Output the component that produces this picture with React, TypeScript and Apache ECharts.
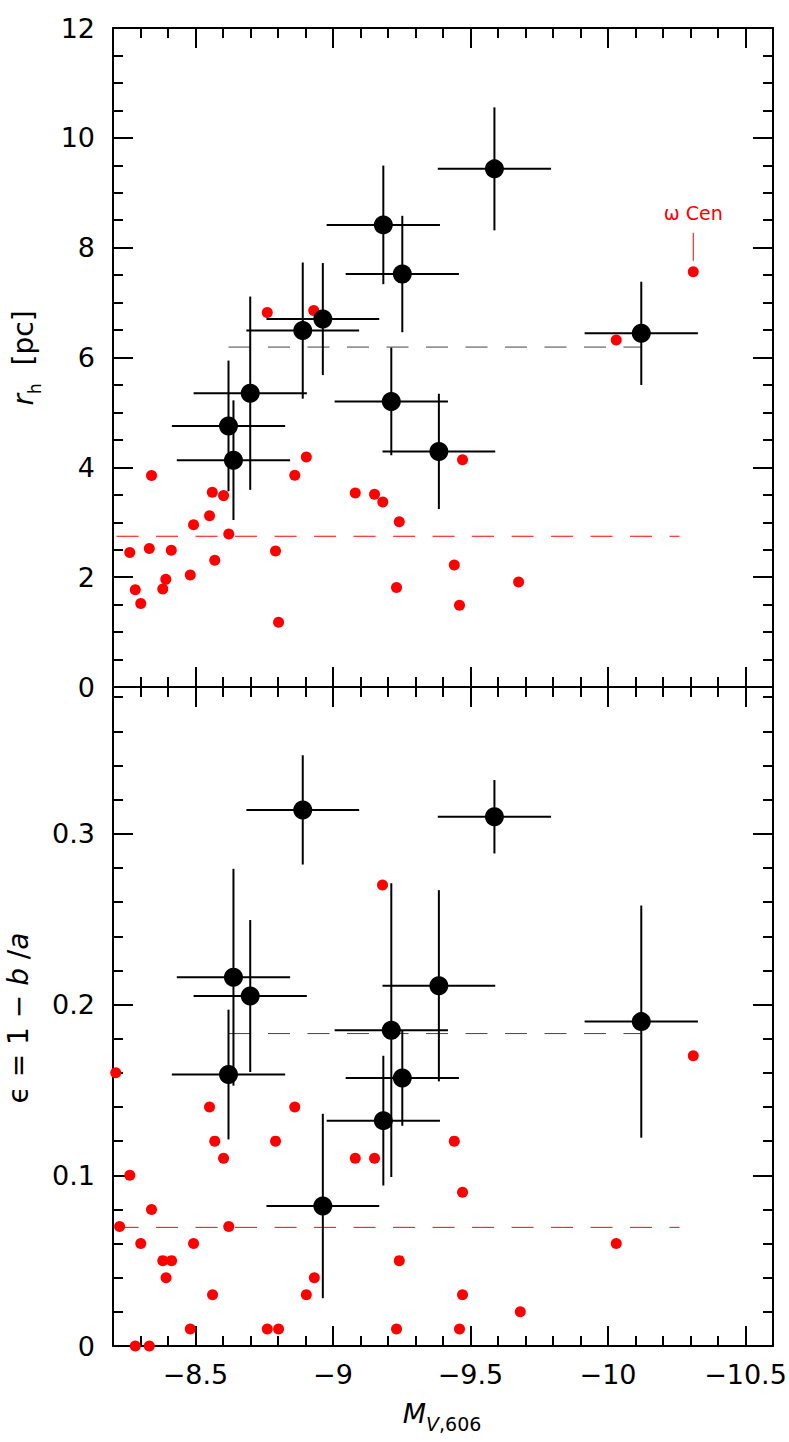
import React, { useEffect, useRef } from 'react';
import * as echarts from 'echarts';

const FONT = '"DejaVu Sans", "Liberation Sans", sans-serif';
const FW = 'normal';

// x-axis range (M_V,606; plotted brighter to the right)
const X_MIN = -10.6;
const X_MAX = -8.2;
const RH_MAX = 12;
const ELL_MAX = 0.386;

// Black points: sample with error bars
const blackMv = [-9.183, -9.587, -9.252, -10.121, -8.963, -8.89, -9.385, -9.212, -8.699, -8.62, -8.638];
const blackMvErr = [0.206, 0.206, 0.206, 0.206, 0.205, 0.205, 0.205, 0.206, 0.206, 0.206, 0.206];
const blackRh = [8.415, 9.435, 7.52, 6.44, 6.7, 6.49, 4.29, 5.2, 5.35, 4.754, 4.13];
const blackRhErr = [1.08, 1.12, 1.06, 0.94, 1.02, 1.24, 1.05, 0.98, 1.76, 1.19, 1.09];
const blackEll = [0.132, 0.31, 0.157, 0.19, 0.082, 0.314, 0.211, 0.185, 0.205, 0.159, 0.216];
const blackEllErr = [0.038, 0.0215, 0.028, 0.068, 0.054, 0.032, 0.056, 0.086, 0.0445, 0.038, 0.0635];

// Red points: comparison clusters, upper panel
const redMvTop = [-8.261, -8.281, -8.301, -8.332, -8.34, -8.381, -8.392, -8.412, -8.481, -8.493, -8.551, -8.561, -8.57, -8.602, -8.621, -8.761, -8.791, -8.802, -8.861, -8.903, -8.93, -9.081, -9.151, -9.181, -9.241, -9.231, -9.441, -9.46, -9.471, -9.675, -10.03, -10.31];
const redRh = [2.45, 1.77, 1.52, 2.52, 3.85, 1.785, 1.96, 2.49, 2.04, 2.956, 3.12, 3.546, 2.31, 3.485, 2.787, 6.82, 2.477, 1.18, 3.856, 4.19, 6.854, 3.534, 3.51, 3.37, 3.01, 1.81, 2.22, 1.49, 4.14, 1.91, 6.32, 7.56];

// Red points: lower panel
const redMvBot = [-8.21, -8.224, -8.261, -8.281, -8.301, -8.332, -8.34, -8.381, -8.393, -8.413, -8.481, -8.493, -8.551, -8.562, -8.57, -8.602, -8.621, -8.761, -8.791, -8.802, -8.861, -8.903, -8.932, -9.081, -9.151, -9.18, -9.241, -9.231, -9.441, -9.471, -9.471, -9.46, -9.681, -10.03, -10.31];
const redEll = [0.16, 0.07, 0.1, 0.0, 0.06, 0.0, 0.08, 0.05, 0.04, 0.05, 0.01, 0.06, 0.14, 0.03, 0.12, 0.11, 0.07, 0.01, 0.12, 0.01, 0.14, 0.03, 0.04, 0.11, 0.11, 0.27, 0.05, 0.01, 0.12, 0.09, 0.03, 0.01, 0.02, 0.06, 0.17];

// omega Cen
const omegaMv = -10.31;
const omegaRh = 7.56;
const omegaLabel = 'ω Cen';

// Mean lines: [xStart, xEnd, y]
const meanBlackRh = [-8.62, -10.121, 6.19];
const meanRedRh = [-8.213, -10.26, 2.745];
const meanBlackEll = [-8.62, -10.121, 0.183];
const meanRedEll = [-8.213, -10.26, 0.0695];

const xTickLabel = (v: number) => {
  const r = Math.round(v * 2) / 2;
  if (Math.abs(v - r) > 1e-6) return '';
  return '\u2212' + String(Math.abs(r));
};

const tickStyle = { color: '#000', width: 2 };

function xAxisCfg(gridIndex: number, position: string, labels: boolean) {
  return {
    type: 'value',
    gridIndex,
    position,
    inverse: true,
    min: X_MIN,
    max: X_MAX,
    minInterval: 0.5,
    maxInterval: 0.5,
    splitNumber: 5,
    axisLine: { show: true, onZero: false, lineStyle: { color: '#000', width: 2 } },
    axisTick: { show: true, inside: true, length: 20, lineStyle: tickStyle },
    minorTick: { show: true, splitNumber: 5, length: 10, lineStyle: tickStyle },
    splitLine: { show: false },
    minorSplitLine: { show: false },
    axisLabel: {
      show: labels,
      showMinLabel: false,
      showMaxLabel: false,
      margin: 15,
      fontSize: 27,
      fontFamily: FONT,
      fontWeight: FW,
      color: '#000',
      formatter: xTickLabel,
    },
  };
}

function yAxisCfg(gridIndex: number, position: string, labels: boolean, max: number, interval: number, minorSplit: number, fmt: (v: number) => string) {
  return {
    type: 'value',
    gridIndex,
    position,
    min: 0,
    max,
    minInterval: interval,
    maxInterval: interval,
    axisLine: { show: true, onZero: false, lineStyle: { color: '#000', width: 2 } },
    axisTick: { show: true, inside: true, length: 20, lineStyle: tickStyle },
    minorTick: { show: true, splitNumber: minorSplit, length: 10, lineStyle: tickStyle },
    splitLine: { show: false },
    minorSplitLine: { show: false },
    axisLabel: {
      show: labels,
      showMaxLabel: max === RH_MAX,
      margin: 18,
      fontSize: 27,
      fontFamily: FONT,
      fontWeight: FW,
      color: '#000',
      formatter: fmt,
    },
  };
}

const rhFmt = (v: number) => {
  const r = Math.round(v / 2) * 2;
  if (Math.abs(v - r) > 1e-6) return '';
  return String(r);
};
const ellFmt = (v: number) => {
  const r = Math.round(v * 10) / 10;
  if (Math.abs(v - r) > 1e-6) return '';
  return r === 0 ? '0' : r.toFixed(1);
};

const errorBarRender = (params: any, api: any) => {
  const x = api.value(0);
  const y = api.value(1);
  const ex = api.value(2);
  const ey = api.value(3);
  const l = api.coord([x - ex, y]);
  const r = api.coord([x + ex, y]);
  const t = api.coord([x, y + ey]);
  const b = api.coord([x, y - ey]);
  const style = { stroke: '#000', lineWidth: 2 };
  return {
    type: 'group',
    children: [
      { type: 'line', shape: { x1: l[0], y1: l[1], x2: r[0], y2: r[1] }, style },
      { type: 'line', shape: { x1: t[0], y1: t[1], x2: b[0], y2: b[1] }, style },
    ],
  };
};

const omegaRender = (params: any, api: any) => {
  const c = api.coord([api.value(0), api.value(1)]);
  return {
    type: 'group',
    children: [
      { type: 'line', shape: { x1: c[0], y1: c[1] - 11, x2: c[0], y2: c[1] - 39 }, style: { stroke: '#ff0000', lineWidth: 1 } },
      {
        type: 'text',
        x: c[0],
        y: c[1] - 59,
        style: { text: omegaLabel, fill: '#ff0000', fontSize: 19, fontFamily: FONT, fontWeight: FW, align: 'center', verticalAlign: 'middle' },
      },
    ],
  };
};

function meanLine(m: number[], xi: number, yi: number, color: string) {
  return {
    type: 'line',
    xAxisIndex: xi,
    yAxisIndex: yi,
    data: [[m[0], m[2]], [m[1], m[2]]],
    symbol: 'none',
    silent: true,
    lineStyle: { color, width: 1, type: [22, 17.5] },
    z: 1,
  };
}

export default function App() {
  const ref = useRef<HTMLDivElement>(null);
  useEffect(() => {
    if (!ref.current) return;
    const chart = echarts.init(ref.current, null, { renderer: 'svg' });
    const blackTopData = blackMv.map((x, i) => [x, blackRh[i], blackMvErr[i], blackRhErr[i]]);
    const blackBotData = blackMv.map((x, i) => [x, blackEll[i], blackMvErr[i], blackEllErr[i]]);
    const option: any = {
      animation: false,
      backgroundColor: '#fff',
      textStyle: { fontFamily: FONT },
      grid: [
        { left: 113, top: 28, width: 660, height: 659, containLabel: false, outerBoundsMode: 'none' },
        { left: 113, top: 687, width: 660, height: 659, containLabel: false, outerBoundsMode: 'none' },
      ],
      xAxis: [
        xAxisCfg(0, 'bottom', false),
        xAxisCfg(0, 'top', false),
        xAxisCfg(1, 'bottom', true),
        xAxisCfg(1, 'top', false),
      ],
      yAxis: [
        yAxisCfg(0, 'left', true, RH_MAX, 2, 4, rhFmt),
        yAxisCfg(0, 'right', false, RH_MAX, 2, 4, rhFmt),
        yAxisCfg(1, 'left', true, ELL_MAX, 0.1, 5, ellFmt),
        yAxisCfg(1, 'right', false, ELL_MAX, 0.1, 5, ellFmt),
      ],
      graphic: [
        {
          type: 'text',
          x: 24,
          y: 358,
          rotation: Math.PI / 2,
          style: {
            text: '{ri|r}{sb|h}{n|  [pc]}',
            align: 'center',
            verticalAlign: 'middle',
            rich: {
              ri: { fontSize: 28, fontStyle: 'italic', fontFamily: FONT, fontWeight: FW, fill: '#000', verticalAlign: 'top', lineHeight: 30 },
              sb: { fontSize: 17, fontFamily: FONT, fontWeight: FW, fill: '#000', verticalAlign: 'top', lineHeight: 20, padding: [17, 0, 0, 0] },
              n: { fontSize: 28, fontFamily: FONT, fontWeight: FW, fill: '#000', verticalAlign: 'top', lineHeight: 30 },
            },
          },
        },
        {
          type: 'text',
          x: 18,
          y: 1018,
          rotation: Math.PI / 2,
          style: {
            text: '{n|\u03f5 = 1 \u2212 }{i|b}{n| /}{i|a}',
            align: 'center',
            verticalAlign: 'middle',
            rich: {
              n: { fontSize: 28, fontFamily: FONT, fontWeight: FW, fill: '#000' },
              i: { fontSize: 28, fontStyle: 'italic', fontFamily: FONT, fontWeight: FW, fill: '#000' },
            },
          },
        },
        {
          type: 'text',
          x: 442,
          y: 1414,
          style: {
            text: '{i|M}{si|V}{s|,606}',
            align: 'center',
            verticalAlign: 'middle',
            rich: {
              i: { fontSize: 27, fontStyle: 'italic', fontFamily: FONT, fontWeight: FW, fill: '#000', verticalAlign: 'top', lineHeight: 28 },
              si: { fontSize: 19, fontStyle: 'italic', fontFamily: FONT, fontWeight: FW, fill: '#000', verticalAlign: 'top', lineHeight: 20, padding: [14, 0, 0, 0] },
              s: { fontSize: 19, fontFamily: FONT, fontWeight: FW, fill: '#000', verticalAlign: 'top', lineHeight: 20, padding: [14, 0, 0, 0] },
            },
          },
        },
      ],
      series: [
        meanLine(meanRedRh, 0, 0, '#ff0000'),
        meanLine(meanRedEll, 2, 2, '#ff0000'),
        {
          type: 'scatter',
          xAxisIndex: 0,
          yAxisIndex: 0,
          data: redMvTop.map((x, i) => [x, redRh[i]]),
          symbolSize: 11,
          itemStyle: { color: '#ff0000', opacity: 1 },
          clip: false,
          z: 2,
        },
        {
          type: 'scatter',
          xAxisIndex: 2,
          yAxisIndex: 2,
          data: redMvBot.map((x, i) => [x, redEll[i]]),
          symbolSize: 11,
          itemStyle: { color: '#ff0000', opacity: 1 },
          clip: false,
          z: 2,
        },
        meanLine(meanBlackRh, 0, 0, '#444'),
        meanLine(meanBlackEll, 2, 2, '#444'),
        {
          type: 'custom',
          xAxisIndex: 0,
          yAxisIndex: 0,
          data: blackTopData,
          dimensions: ['x', 'y', 'ex', 'ey'],
          encode: { x: 0, y: 1 },
          renderItem: errorBarRender,
          z: 3,
        },
        {
          type: 'custom',
          xAxisIndex: 2,
          yAxisIndex: 2,
          data: blackBotData,
          dimensions: ['x', 'y', 'ex', 'ey'],
          encode: { x: 0, y: 1 },
          renderItem: errorBarRender,
          z: 3,
        },
        {
          type: 'scatter',
          xAxisIndex: 0,
          yAxisIndex: 0,
          data: blackMv.map((x, i) => [x, blackRh[i]]),
          symbolSize: 19,
          itemStyle: { color: '#000', opacity: 1 },
          z: 4,
        },
        {
          type: 'scatter',
          xAxisIndex: 2,
          yAxisIndex: 2,
          data: blackMv.map((x, i) => [x, blackEll[i]]),
          symbolSize: 19,
          itemStyle: { color: '#000', opacity: 1 },
          z: 4,
        },
        {
          type: 'custom',
          xAxisIndex: 0,
          yAxisIndex: 0,
          data: [[omegaMv, omegaRh]],
          renderItem: omegaRender,
          z: 5,
        },
      ],
    };
    chart.setOption(option);
    return () => chart.dispose();
  }, []);
  return (
    <div
      ref={ref}
      style={{ position: 'fixed', left: 0, top: 0, width: 789, height: 1442, background: '#fff' }}
    />
  );
}
